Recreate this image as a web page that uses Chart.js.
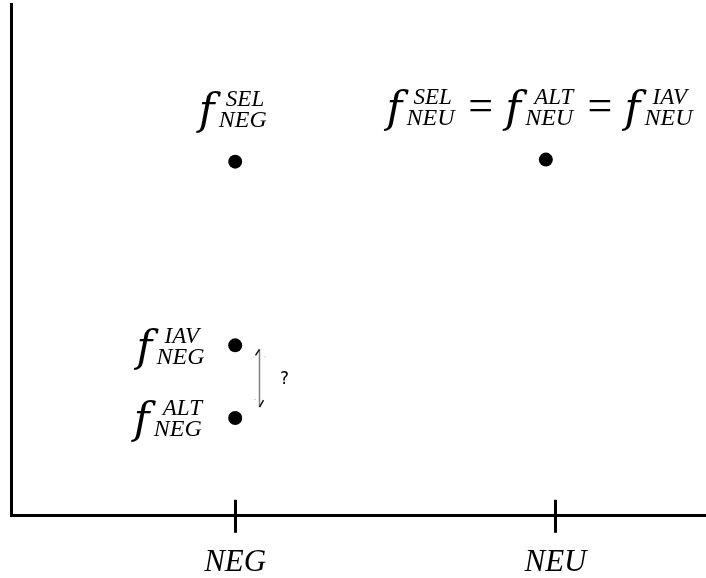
<!DOCTYPE html>
<html><head><meta charset="utf-8">
<style>html,body{margin:0;padding:0;background:#fff;overflow:hidden;} #wrap{width:706px;height:592px;position:relative;}</style>
<script src="https://cdn.jsdelivr.net/npm/chart.js@4.4.0/dist/chart.umd.min.js"></script>
</head><body><div id="wrap"><canvas id="c"></canvas></div>
<script>
// ---- data ----
const categories = ['NEG', 'NEU'];
const tickValues = [1, 2];
const pointX = [1, 1, 1, 1.97];
const pointY = [6.92, 3.33, 1.91, 6.96];
const supLabels = [['SEL'], ['IAV'], ['ALT'], ['SEL', 'ALT', 'IAV']];
const subLabels = [['NEG'], ['NEG'], ['NEG'], ['NEU', 'NEU', 'NEU']];
const questionText = '?';

// ---- styles / placement ----
const SERIF = '"Liberation Serif","Times New Roman",serif';
const F_FAMILY = '"DejaVu Serif", serif';
const F_HEIGHT = 41, F_BOTTOM_DY = 6;
let F_FONT = 'italic 44px ' + F_FAMILY;
const SUP_FONT = 'italic 23px ' + SERIF;
const SUB_FONT = 'italic 24px ' + SERIF;
const EQ_FONT = '44px ' + SERIF;
const SUP_DX = 30, SUB_DX = 22, SUP_DY = -21, EQ_DY = -19;
const GAP1 = 14, GAP2 = 11;
const labelPlacement = [
  {align: 'center', dx: -4, dy: -35},
  {align: 'right', dx: -31, dy: 19},
  {align: 'right', dx: -31, dy: 18},
  {align: 'center', dx: -7, dy: -35}
];

function glyph(ctx, font, text) {
  ctx.font = font;
  const m = ctx.measureText(text);
  return {left: m.actualBoundingBoxLeft, right: m.actualBoundingBoxRight,
          asc: m.actualBoundingBoxAscent, desc: m.actualBoundingBoxDescent};
}
function fitF(ctx) {
  const g = glyph(ctx, 'italic 100px ' + F_FAMILY, 'f');
  const size = 100 * F_HEIGHT / (g.asc + g.desc);
  F_FONT = 'italic ' + size.toFixed(1) + 'px ' + F_FAMILY;
}
function termWidth(ctx, sup, sub) {
  const f = glyph(ctx, F_FONT, 'f');
  const a = glyph(ctx, SUP_FONT, sup);
  const b = glyph(ctx, SUB_FONT, sub);
  return Math.max(f.left + f.right, SUP_DX + a.left + a.right, SUB_DX + b.left + b.right);
}
function drawTerm(ctx, x, base, sup, sub) {
  const f = glyph(ctx, F_FONT, 'f');
  ctx.font = F_FONT; ctx.fillText('f', x + f.left, base + F_BOTTOM_DY - f.desc);
  const a = glyph(ctx, SUP_FONT, sup);
  ctx.font = SUP_FONT; ctx.fillText(sup, x + SUP_DX + a.left, base + SUP_DY);
  const b = glyph(ctx, SUB_FONT, sub);
  ctx.font = SUB_FONT; ctx.fillText(sub, x + SUB_DX + b.left, base);
}

const overlay = {
  id: 'overlay',
  afterDraw(chart) {
    const ctx = chart.ctx;
    const xs = chart.scales.x;
    const area = chart.chartArea;
    ctx.save();
    fitF(ctx);
    // inward half of tick marks
    ctx.strokeStyle = '#000'; ctx.lineWidth = 3;
    xs.ticks.forEach(t => {
      const px = Math.round(xs.getPixelForValue(t.value)) + 0.5;
      ctx.beginPath(); ctx.moveTo(px, area.bottom); ctx.lineTo(px, area.bottom - 16); ctx.stroke();
    });
    // labels
    ctx.fillStyle = '#000'; ctx.textAlign = 'left'; ctx.textBaseline = 'alphabetic';
    const pts = chart.getDatasetMeta(0).data;
    const eq = glyph(ctx, EQ_FONT, '=');
    const eqW = eq.left + eq.right;
    supLabels.forEach((sups, i) => {
      const p = pts[i]; const pl = labelPlacement[i];
      const widths = sups.map((s, k) => termWidth(ctx, s, subLabels[i][k]));
      const total = widths.reduce((a, b) => a + b, 0) + (sups.length - 1) * (GAP1 + eqW + GAP2);
      let x = pl.align === 'center' ? p.x + pl.dx - total / 2 : p.x + pl.dx - total;
      const base = p.y + pl.dy;
      sups.forEach((s, k) => {
        drawTerm(ctx, x, base, s, subLabels[i][k]);
        x += widths[k];
        if (k < sups.length - 1) {
          x += GAP1;
          ctx.font = EQ_FONT;
          const cy = base + EQ_DY;
          ctx.fillText('=', x + eq.left, cy + (eq.asc - eq.desc) / 2);
          x += eqW + GAP2;
        }
      });
    });
    // arrow between IAV and ALT points
    const p1 = pts[1], p2 = pts[2];
    const ax = Math.round(p1.x + 24) + 0.5;
    const y1 = p1.y + 4, y2 = p2.y - 11;
    ctx.strokeStyle = '#808080'; ctx.lineWidth = 1.5;
    ctx.beginPath(); ctx.moveTo(ax, y1); ctx.lineTo(ax, y2); ctx.stroke();
    ctx.strokeStyle = '#111'; ctx.lineWidth = 1.5;
    ctx.beginPath(); ctx.moveTo(ax - 4, y1 + 6); ctx.lineTo(ax, y1); ctx.stroke();
    ctx.beginPath(); ctx.moveTo(ax, y2); ctx.lineTo(ax + 4, y2 - 7); ctx.stroke();
    ctx.fillStyle = '#aaa';
    ctx.fillRect(ax + 5, y1 + 7, 1, 1);
    ctx.fillRect(ax - 5, y2 - 8, 1, 1);
    ctx.fillStyle = '#000';
    ctx.font = '17px "DejaVu Sans", sans-serif';
    ctx.textAlign = 'center'; ctx.textBaseline = 'middle';
    ctx.fillText(questionText, ax + 25, (y1 + y2) / 2 + 1);
    ctx.restore();
  }
};

new Chart(document.getElementById('c'), {
  type: 'scatter',
  data: {datasets: [{
    data: pointX.map((x, i) => ({x: x, y: pointY[i]})),
    backgroundColor: '#000', borderWidth: 0, pointRadius: 7, pointHoverRadius: 7
  }]},
  options: {
    responsive: true, maintainAspectRatio: false, animation: false, events: [],
    layout: {autoPadding: false, padding: {left: 11, top: 4, right: 0, bottom: 0}},
    plugins: {legend: {display: false}, tooltip: {enabled: false}},
    scales: {
      x: {
        type: 'linear', min: 0.3, max: 2.47,
        afterBuildTicks: s => { s.ticks = tickValues.map(v => ({value: v})); },
        ticks: {
          callback: v => { const k = tickValues.indexOf(v); return k >= 0 ? categories[k] : ''; },
          font: {family: SERIF, size: 31, style: 'italic'}, color: '#000',
          padding: 11, maxRotation: 0, autoSkip: false
        },
        grid: {display: true, drawOnChartArea: false, drawTicks: true, tickLength: 17, lineWidth: 3, color: '#000'},
        border: {display: true, width: 3, color: '#000'}
      },
      y: {
        type: 'linear', min: 0, max: 10,
        ticks: {display: false},
        grid: {display: false, drawTicks: false},
        border: {display: true, width: 3, color: '#000'}
      }
    }
  },
  plugins: [overlay]
});
</script>
</body></html>
